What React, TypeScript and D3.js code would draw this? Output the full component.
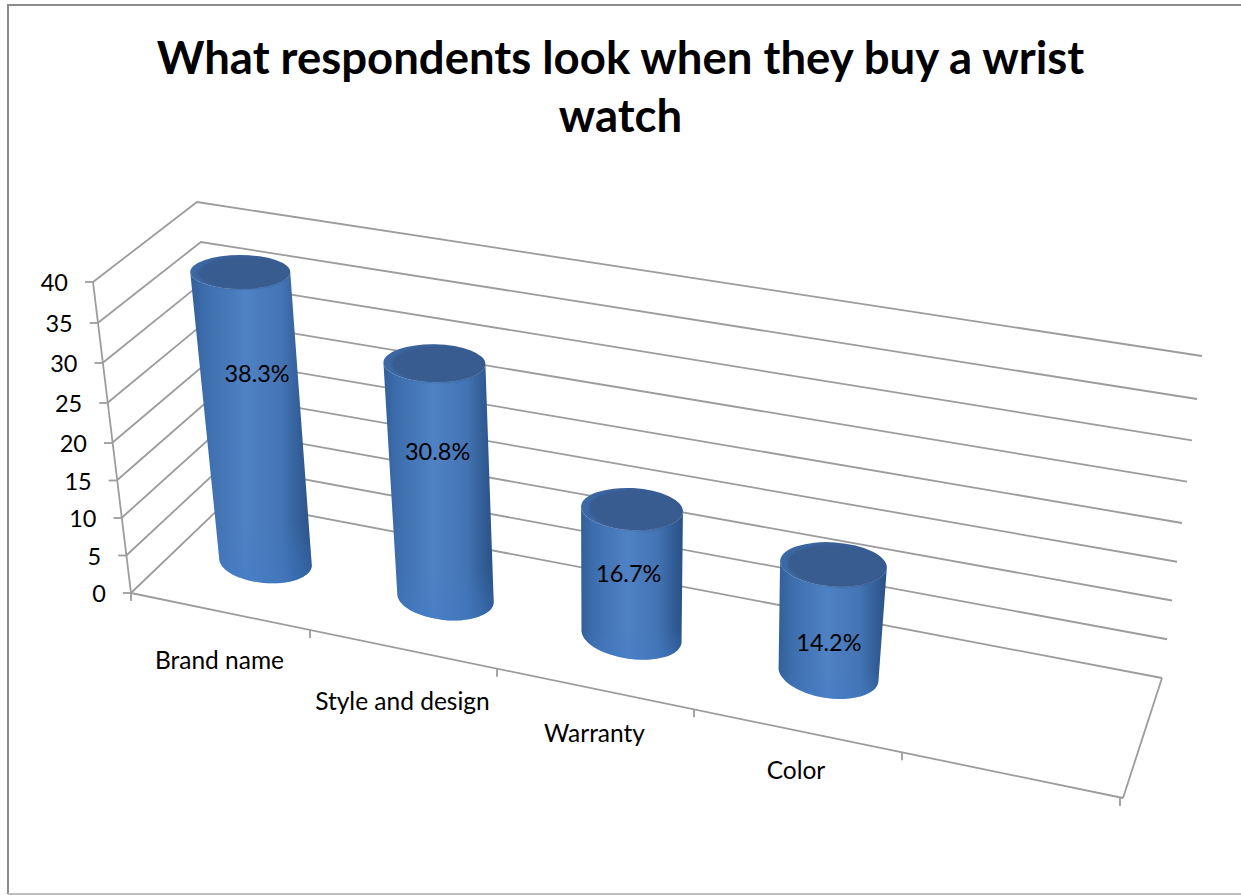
import React from "react";
import * as d3 from "d3";

// Chart content
const titleLines = ["What respondents look when they buy a wrist", "watch"];
const categories = ["Brand name", "Style and design", "Warranty", "Color"];
const percentages = [38.3, 30.8, 16.7, 14.2];
const valueTicks = [0, 5, 10, 15, 20, 25, 30, 35, 40];

// Perspective of the 3D box: each corner edge is a value-to-pixel scale
const scaleDomain = [0, 20, 35, 40];
const frontY = d3.scaleLinear().domain(scaleDomain).range([593, 443, 323, 282]);
const frontX = d3.scaleLinear().domain([0, 40]).range([131, 93]);
const backY = d3.scaleLinear().domain(scaleDomain).range([500, 358, 242, 202]);
const backX = d3.scaleLinear().domain([0, 40]).range([228, 197]);
const rightY = d3.scaleLinear().domain(scaleDomain).range([678, 523, 399, 356]);
const rightX = d3.scaleLinear().domain([0, 40]).range([1162, 1202]);

// Front edge of the floor; slots shrink towards the far end
const slotX = d3.scaleLinear().domain([0, 1, 2, 3, 4]).range([131, 310, 497, 694, 902]);
const frontEdge = d3.scaleLinear().domain([131, 1123]).range([593, 798]);

// Cylinder geometry per category index
const idx = [0, 1, 2, 3];
const baseX = d3.scaleLinear().domain(idx).range([265.5, 445.5, 631.5, 828.5]);
const baseY = d3.scaleLinear().domain(idx).range([562, 598, 636, 674]);
const heightPerUnit = d3.scaleLinear().domain(idx).range([7.57, 7.62, 7.6, 7.72]);
const leanPerUnit = d3.scaleLinear().domain(idx).range([-0.66, -0.36, 0.03, 0.35]);
const rxBottom = d3.scaleLinear().domain(idx).range([46.5, 48.5, 50.5, 50.5]);
const rxTop = d3.scaleLinear().domain(idx).range([50, 51, 51, 53.5]);
const ryBottom = d3.scaleLinear().domain(idx).range([21, 22, 23, 24]);
const ryTop = d3.scaleLinear().domain(idx).range([17, 19, 21, 22]);
const tiltBottom = d3.scaleLinear().domain(idx).range([5, 6, 8, 9]);
const tiltTop = d3.scaleLinear().domain(idx).range([0, 1, 3, 4]);

// Where the percentage sits along each cylinder
const labelFraction = [0.35, 0.378, 0.515, 0.72];
const labelOffsetX = [8, -1, -3, -1];

const categoryLabelDx = [-1, -1, -1, -2];
const categoryLabelDy = [50, 53, 45, 40];

const AXIS_COLOR = "#9c9c9c";
const FONT = "Lato, 'Open Sans', sans-serif";

function rad(deg: number) {
  return (deg * Math.PI) / 180;
}

function ellipsePoint(cx: number, cy: number, rx: number, ry: number, tilt: number, t: number) {
  const a = rad(tilt);
  const x = rx * Math.cos(t);
  const y = ry * Math.sin(t);
  return [cx + x * Math.cos(a) - y * Math.sin(a), cy + x * Math.sin(a) + y * Math.cos(a)];
}

function Cylinder({ i, value }: { i: number; value: number }) {
  const bx = baseX(i);
  const by = baseY(i);
  const tx = bx + leanPerUnit(i) * value;
  const ty = by - heightPerUnit(i) * value;
  const bl = ellipsePoint(bx, by, rxBottom(i), ryBottom(i), tiltBottom(i), Math.PI);
  const br = ellipsePoint(bx, by, rxBottom(i), ryBottom(i), tiltBottom(i), 0);
  const tl = ellipsePoint(tx, ty, rxTop(i), ryTop(i), tiltTop(i), Math.PI);
  const tr = ellipsePoint(tx, ty, rxTop(i), ryTop(i), tiltTop(i), 0);
  const body =
    `M${tl[0]},${tl[1]} L${bl[0]},${bl[1]} ` +
    `A${rxBottom(i)},${ryBottom(i)} ${tiltBottom(i)} 0 0 ${br[0]},${br[1]} ` +
    `L${tr[0]},${tr[1]} ` +
    `A${rxTop(i)},${ryTop(i)} ${tiltTop(i)} 0 1 ${tl[0]},${tl[1]} Z`;
  return (
    <g>
      <path d={body} fill="url(#cylinderSide)" />
      <path d={body} fill="url(#cylinderFoot)" />
      <ellipse
        cx={tx}
        cy={ty}
        rx={rxTop(i)}
        ry={ryTop(i)}
        transform={`rotate(${tiltTop(i)} ${tx} ${ty})`}
        fill="url(#cylinderRim)"
      />
      <ellipse
        cx={tx + 3}
        cy={ty + 1}
        rx={rxTop(i) - 5}
        ry={ryTop(i) - 1}
        transform={`rotate(${tiltTop(i)} ${tx} ${ty})`}
        fill="#385c90"
        filter="url(#softTop)"
      />
    </g>
  );
}

export default function App() {
  return (
    <svg
      width={1241}
      height={895}
      style={{ position: "absolute", left: 0, top: 0, background: "#fff" }}
      fontFamily={FONT}
    >
      <defs>
        <linearGradient id="cylinderSide" x1="0" y1="0" x2="1" y2="0">
          <stop offset="0" stopColor="#315f99" />
          <stop offset="0.12" stopColor="#3d6dac" />
          <stop offset="0.45" stopColor="#4f82c4" />
          <stop offset="0.75" stopColor="#4474b4" />
          <stop offset="0.93" stopColor="#2f5a92" />
          <stop offset="1" stopColor="#2a5186" />
        </linearGradient>
        <linearGradient id="cylinderFoot" x1="0" y1="0" x2="0" y2="1">
          <stop offset="0" stopColor="#3f7bc8" stopOpacity="0" />
          <stop offset="0.8" stopColor="#3f7bc8" stopOpacity="0" />
          <stop offset="1" stopColor="#3f7bc8" stopOpacity="0.45" />
        </linearGradient>
        <linearGradient id="cylinderRim" x1="0" y1="0" x2="1" y2="0">
          <stop offset="0" stopColor="#3c6aa4" />
          <stop offset="0.5" stopColor="#3a6099" />
          <stop offset="1" stopColor="#345a90" />
        </linearGradient>
        <filter id="softTop" x="-10%" y="-10%" width="120%" height="120%">
          <feGaussianBlur stdDeviation="1.2" />
        </filter>
      </defs>

      {/* Chart area frame: left and top run dark, the bottom is fainter, the right falls off the page */}
      <path d="M8,894 V5 H1241" fill="none" stroke="#8c8c8c" strokeWidth={2} />
      <line x1={8} y1={894} x2={1241} y2={894} stroke="#bdbdbd" strokeWidth={2} />

      {titleLines.map((line, k) => (
        <text
          key={line}
          x={620.5}
          y={74 + k * 58}
          textAnchor="middle"
          fontSize={45.5}
          fontWeight={700}
          fill="#000"
        >
          {line}
        </text>
      ))}

      {/* Walls: value lines run from the front axis to the back corner, then to the far end */}
      <g fill="none" stroke={AXIS_COLOR} strokeWidth={1.8}>
        {valueTicks.map((v) => (
          <path
            key={v}
            d={
              d3.line()([
                [frontX(v), frontY(v)],
                [backX(v), backY(v)],
                [rightX(v), rightY(v)],
              ]) ?? ""
            }
          />
        ))}
        <line x1={frontX(40)} y1={frontY(40)} x2={frontX(0)} y2={frontY(0)} />
        <line x1={frontX(0)} y1={frontY(0)} x2={1123} y2={798} />
        <line x1={1123} y1={798} x2={rightX(0)} y2={rightY(0)} />
        {valueTicks.map((v) => (
          <line key={v} x1={frontX(v) - 8} y1={frontY(v)} x2={frontX(v)} y2={frontY(v)} />
        ))}
        {[0, 1, 2, 3, 4].map((s) => (
          <line
            key={s}
            x1={slotX(s)}
            y1={frontEdge(slotX(s))}
            x2={slotX(s)}
            y2={frontEdge(slotX(s)) + 8}
          />
        ))}
        <line x1={1120} y1={797} x2={1120} y2={806} />
      </g>

      <g fontSize={23.5} fill="#000">
        {valueTicks.map((v) => (
          <text key={v} x={frontX(v) - 25} y={frontY(v) + 9} textAnchor="end">
            {v}
          </text>
        ))}
      </g>
      <g fontSize={24.5} fill="#000">
        {categories.map((c, i) => {
          const mid = (slotX(i) + slotX(i + 1)) / 2;
          return (
            <text
              key={c}
              x={mid + categoryLabelDx[i]}
              y={frontEdge(mid) + categoryLabelDy[i] + 8}
              textAnchor="middle"
            >
              {c}
            </text>
          );
        })}
      </g>

      {percentages.map((v, i) => (
        <Cylinder key={categories[i]} i={i} value={v} />
      ))}

      <g fontSize={23.5} fill="#000" textAnchor="middle">
        {percentages.map((v, i) => {
          const f = labelFraction[i];
          const tx = baseX(i) + leanPerUnit(i) * v;
          const ty = baseY(i) - heightPerUnit(i) * v;
          return (
            <text
              key={categories[i]}
              x={tx + (baseX(i) - tx) * f + labelOffsetX[i]}
              y={ty + (baseY(i) - ty) * f + 8}
            >
              {`${v.toFixed(1)}%`}
            </text>
          );
        })}
      </g>
    </svg>
  );
}
